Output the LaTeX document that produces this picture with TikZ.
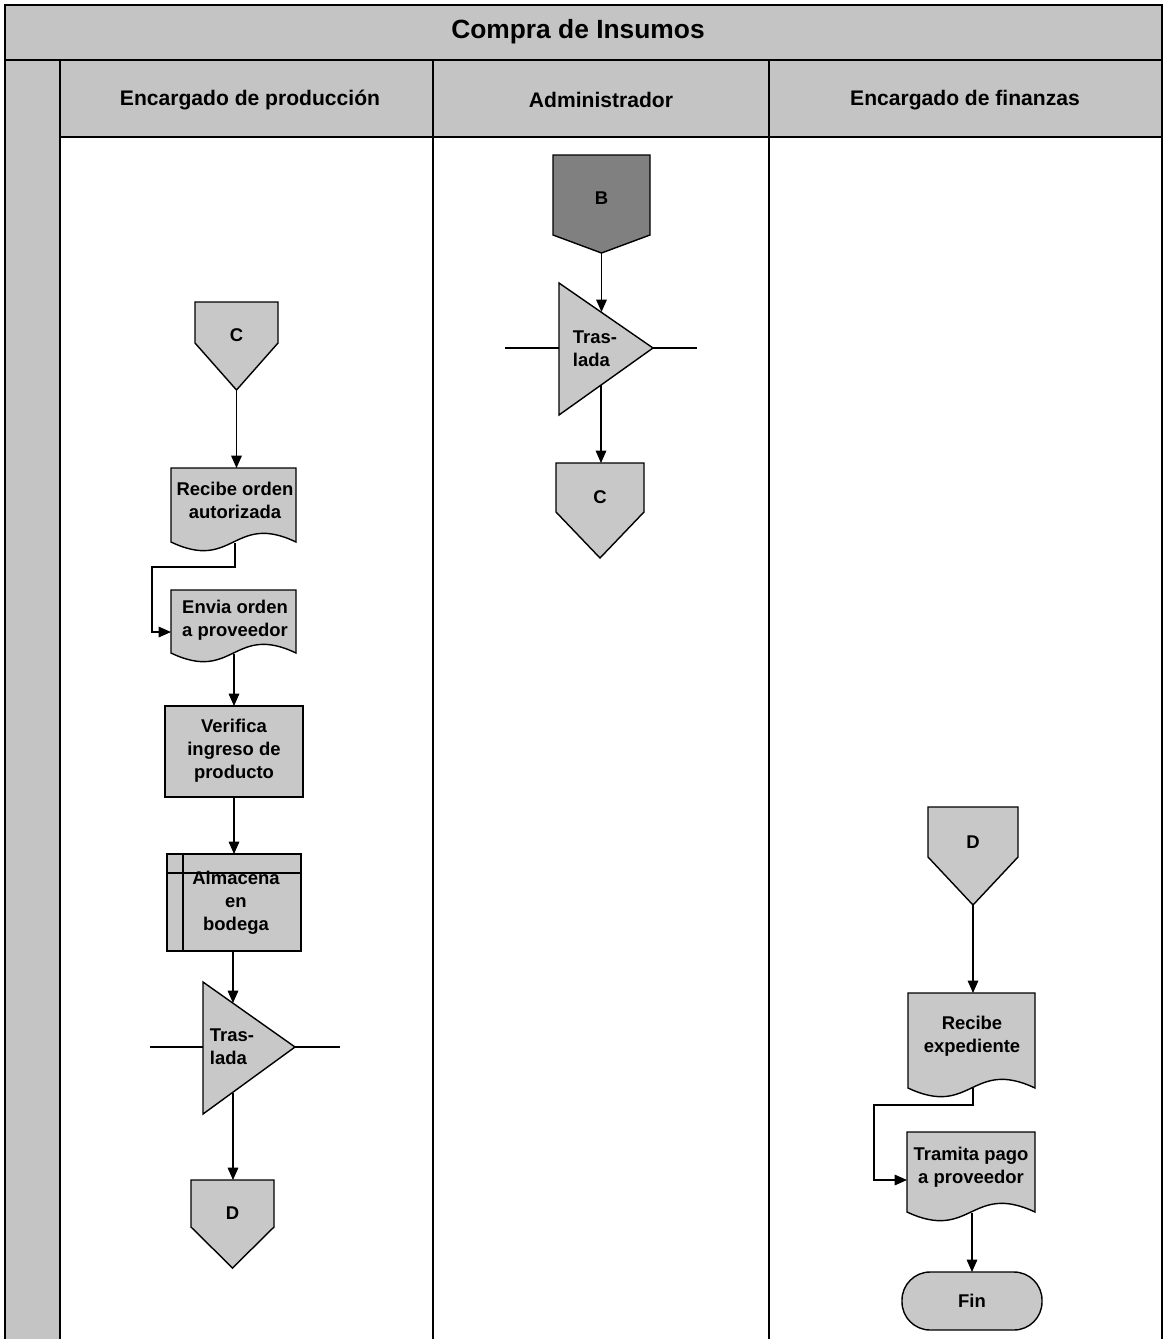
\documentclass[tikz,border=0pt]{standalone}
\usepackage{fontspec}
\setmainfont{Liberation Sans}
\usetikzlibrary{arrows.meta}

\begin{document}
\begin{tikzpicture}[x=0.02cm,y=-0.02cm,
  banda/.style={fill=bandgray,draw=black,line width=1.3pt},
  forma/.style={fill=formgray,draw=black,line width=0.8pt},
  linea/.style={draw=black,line width=0.7pt},
  flecha/.style={linea,-{Triangle[length=7pt,width=6pt]}},
  texto/.style={font=\bfseries\fontsize{10.5}{13}\selectfont,align=center,inner sep=0pt},
  encabezado/.style={font=\bfseries\fontsize{12}{14}\selectfont,inner sep=0pt}]
\definecolor{bandgray}{RGB}{196,196,196}
\definecolor{formgray}{RGB}{200,200,200}
\definecolor{darkgray}{RGB}{128,128,128}
\useasboundingbox (0,0) rectangle (1164,1339);
\draw[banda]  (5,5) rectangle (1162,60);
\draw[banda]  (5,60) rectangle (60,1350);
\draw[banda]  (60,60) rectangle (1162,137);
\draw[line width=1.3pt]  (433,60) -- (433,1350);
\draw[line width=1.3pt]  (769,60) -- (769,1350);
\draw[line width=1.3pt]  (1162,137) -- (1162,1350);
\node[font=\bfseries\fontsize{15}{18}\selectfont,inner sep=0pt] (v1) at (578,32) {Compra de Insumos};
\node[encabezado] (v2) at (250,100) {Encargado de producción};
\node[encabezado] (v3) at (601,100) {Administrador};
\node[encabezado] (v4) at (965,100) {Encargado de finanzas};
\draw[forma]  (195,302) -- (278,302) -- (278,343) -- (236.5,390) -- (195,343) -- cycle;
\draw[forma]  (171,468) -- (296,468) -- (296,542) .. controls (233.5,512) and (233.5,572) .. (171,542) -- cycle;
\draw[forma]  (171,590) -- (296,590) -- (296,653) .. controls (233.5,623) and (233.5,683) .. (171,653) -- cycle;
\draw[forma]  (165,706) rectangle (303,797);
\draw[forma]  (167,854) rectangle (301,951);
\draw[linea]  (183,854) -- (183,951);
\draw[linea]  (167,873) -- (301,873);
\draw[forma]  (203,982) -- (295,1047) -- (203,1114) -- cycle;
\draw[forma]  (191,1180) -- (274,1180) -- (274,1227) -- (232.5,1268) -- (191,1227) -- cycle;
\draw[forma,fill=darkgray]  (553,155) -- (650,155) -- (650,235) -- (601.5,253) -- (553,235) -- cycle;
\draw[forma]  (559,283) -- (653,348) -- (559,415) -- cycle;
\draw[forma]  (556,463) -- (644,463) -- (644,512) -- (600,558) -- (556,512) -- cycle;
\draw[forma]  (928,807) -- (1018,807) -- (1018,857) -- (973,905) -- (928,857) -- cycle;
\draw[forma]  (908,993) -- (1035,993) -- (1035,1088) .. controls (971.5,1058) and (971.5,1118) .. (908,1088) -- cycle;
\draw[forma]  (907,1132) -- (1035,1132) -- (1035,1212) .. controls (971,1182) and (971,1242) .. (907,1212) -- cycle;
\draw[forma,rounded corners=16pt]  (902,1272) rectangle (1042,1330);
\node[texto] (v5) at (236.5,335) {C};
\node[texto] (v6) at (235,500) {Recibe orden\\autorizada};
\node[texto] (v7) at (235,620) {Envia orden\\a proveedor};
\node[texto] (v8) at (234,751) {Verifica\\ingreso de\\producto};
\node[texto] (v9) at (236,903) {Almacena\\en\\bodega};
\node[texto,align=left] (v10) at (232,1047) {Tras-\\lada};
\node[texto] (v11) at (232.5,1213) {D};
\node[texto] (v12) at (601.5,198) {B};
\node[texto,align=left] (v13) at (595,349) {Tras-\\lada};
\node[texto] (v14) at (600,497) {C};
\node[texto] (v15) at (973,842) {D};
\node[texto] (v16) at (972,1036) {Recibe\\expediente};
\node[texto] (v17) at (971,1167) {Tramita pago\\a proveedor};
\node[texto] (v18) at (972,1301) {Fin};
\coordinate (v19) at (236.5,390);
\coordinate (v20) at (236.5,468);
\coordinate (v21) at (235,543);
\coordinate (v22) at (152,567);
\coordinate (v23) at (171,632);
\coordinate (v24) at (234,654);
\coordinate (v25) at (234,706);
\coordinate (v26) at (234,797);
\coordinate (v27) at (234,854);
\coordinate (v28) at (233,951);
\coordinate (v29) at (233,1003);
\coordinate (v30) at (233,1093);
\coordinate (v31) at (233,1180);
\coordinate (v32) at (150,1047);
\coordinate (v33) at (203,1047);
\coordinate (v34) at (295,1047);
\coordinate (v35) at (340,1047);
\coordinate (v36) at (601.5,253);
\coordinate (v37) at (601.5,312);
\coordinate (v38) at (601,385);
\coordinate (v39) at (601,463);
\coordinate (v40) at (505,348);
\coordinate (v41) at (559,348);
\coordinate (v42) at (653,348);
\coordinate (v43) at (697,348);
\coordinate (v44) at (973,905);
\coordinate (v45) at (973,993);
\coordinate (v46) at (973,1088);
\coordinate (v47) at (874,1105);
\coordinate (v48) at (907,1180);
\coordinate (v49) at (972,1213);
\coordinate (v50) at (972,1272);
\draw[flecha]  (v19) -- (v20);
\draw[flecha]  (v21) |- (v22) |- (v23);
\draw[flecha]  (v24) -- (v25);
\draw[flecha]  (v26) -- (v27);
\draw[flecha]  (v28) -- (v29);
\draw[flecha]  (v30) -- (v31);
\draw[linea]  (v32) -- (v33);
\draw[linea]  (v34) -- (v35);
\draw[flecha]  (v36) -- (v37);
\draw[flecha]  (v38) -- (v39);
\draw[linea]  (v40) -- (v41);
\draw[linea]  (v42) -- (v43);
\draw[flecha]  (v44) -- (v45);
\draw[flecha]  (v46) |- (v47) |- (v48);
\draw[flecha]  (v49) -- (v50);
\end{tikzpicture}
\end{document}
